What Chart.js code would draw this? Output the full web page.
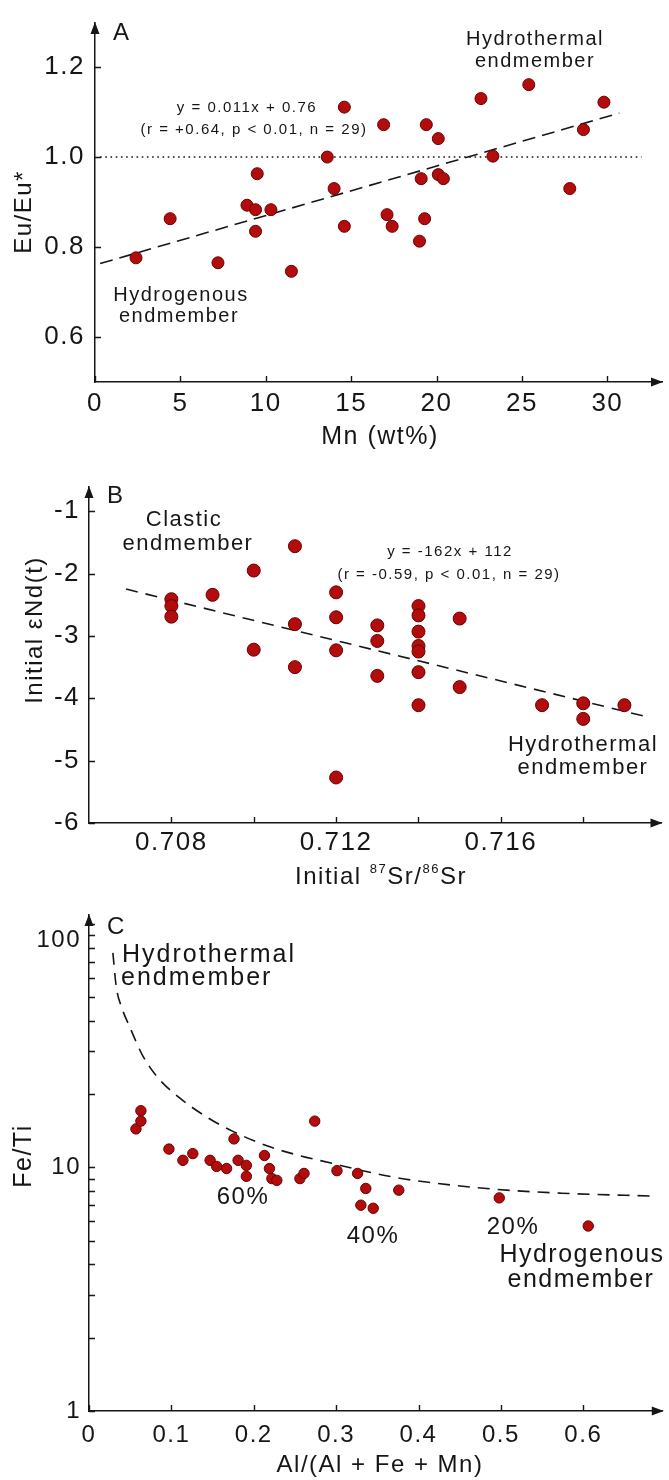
<!DOCTYPE html>
<html>
<head>
<meta charset="utf-8">
<script src="https://cdn.jsdelivr.net/npm/chart.js@4.4.1/dist/chart.umd.min.js"></script>
<style>
  html, body { margin: 0; padding: 0; background: #fff; }
  #page { position: relative; width: 669px; height: 1480px; overflow: hidden; }
  #page canvas { position: absolute; left: 0; }
</style>
</head>
<body>
<div id="page">
  <canvas id="chartA" width="669" height="465" style="top:0"></canvas>
  <canvas id="chartB" width="669" height="430" style="top:465px"></canvas>
  <canvas id="chartC" width="669" height="585" style="top:895px"></canvas>
</div>
<script>
/* ---------- A: Eu/Eu* x Mn ---------- */
const mnA = [2.4, 4.4, 7.2, 8.9, 9.4, 9.4, 9.5, 10.3, 11.5, 13.6, 14.0, 14.6, 14.6, 16.9, 17.1,
             17.4, 19.0, 19.1, 19.3, 19.4, 20.1, 20.1, 20.4, 22.6, 23.3, 25.4, 27.8, 28.6, 29.8];
const euA = [0.776, 0.863, 0.765, 0.893, 0.883, 0.835, 0.963, 0.883, 0.746, 1.000, 0.930, 1.111, 0.846, 1.072, 0.872,
             0.846, 0.813, 0.952, 0.863, 1.072, 1.041, 0.961, 0.952, 1.130, 1.002, 1.161, 0.930, 1.061, 1.122];
const ticksAX = [0, 5, 10, 15, 20, 25, 30];
const ticksAY = [0.6, 0.8, 1.0, 1.2];
const fitA = [0.011, 0.76];          // y = 0.011x + 0.76
const fitAX = [0.3, 30.7];
const refAX = [0.3, 32];             // linha Eu/Eu* = 1
const refAY = [1, 1];

/* ---------- B: εNd(t) x 87Sr/86Sr ---------- */
const srB = [0.708, 0.708, 0.708, 0.709, 0.710, 0.710, 0.711, 0.711, 0.711, 0.712, 0.712, 0.712, 0.712,
             0.713, 0.713, 0.713, 0.714, 0.714, 0.714, 0.714, 0.714, 0.714, 0.714, 0.715, 0.715,
             0.717, 0.718, 0.718, 0.719];
const ndB = [-2.41, -2.52, -2.69, -2.34, -1.95, -3.22, -1.56, -2.81, -3.50, -2.30, -2.70, -3.23, -5.27,
             -2.83, -3.08, -3.64, -2.52, -2.67, -2.93, -3.16, -3.25, -3.58, -4.11, -2.72, -3.82,
             -4.11, -4.08, -4.33, -4.11];
const ticksBX = [0.708, 0.710, 0.712, 0.714, 0.716, 0.718];
const labelsBX = ['0.708', '', '0.712', '', '0.716', ''];
const ticksBY = [-6, -5, -4, -3, -2, -1];
const fitB = [-162, 112.27];         // y = -162x + 112
const fitBX = [0.7069, 0.7195];

/* ---------- C: Fe/Ti x Al/(Al+Fe+Mn) ---------- */
const alC = [0.057, 0.063, 0.063, 0.097, 0.114, 0.126, 0.147, 0.155, 0.167, 0.176, 0.181, 0.191, 0.191, 0.213,
             0.219, 0.222, 0.228, 0.256, 0.261, 0.274, 0.301, 0.326, 0.330, 0.336, 0.345, 0.376, 0.498, 0.606];
const feTiC = [14.4, 15.5, 17.1, 11.9, 10.7, 11.4, 10.7, 10.1, 9.9, 13.1, 10.7, 10.2, 9.2, 11.2,
               9.9, 9.0, 8.85, 9.0, 9.45, 15.5, 9.7, 9.45, 7.0, 8.2, 6.8, 8.07, 7.5, 5.75];
// curva de mistura (tracejada)
const mixX = [0.029, 0.033, 0.040, 0.050, 0.064, 0.082, 0.110, 0.143, 0.174, 0.215, 0.255, 0.295,
              0.331, 0.372, 0.412, 0.493, 0.573, 0.690];
const mixY = [76, 55.5, 45.1, 37.4, 29.3, 23.7, 19.3, 16.1, 14.1, 12.3, 11.2, 10.4,
              9.72, 9.10, 8.69, 8.14, 7.84, 7.62];
const ticksCX = [0, 0.1, 0.2, 0.3, 0.4, 0.5, 0.6];
const ticksCY = [1, 2, 3, 4, 5, 6, 7, 8, 9, 10, 20, 30, 40, 50, 60, 70, 80, 90, 100];
// o rótulo "100" vai como texto solto, logo abaixo da seta
const labelsCY = ticksCY.map(v => (v === 1 || v === 10) ? String(v) : '');

/* ---------- estilo ---------- */
const FONT = "'Liberation Sans', Arial, Helvetica, sans-serif";
const INK = '#161616';
const RED = '#b20c0c';
const RED_EDGE = '#6a0000';

Chart.defaults.font.family = FONT;
Chart.defaults.color = INK;

const zip = (xs, ys) => xs.map((x, i) => ({ x, y: ys[i] }));
const lineFrom = (fit, xs) => xs.map(x => ({ x, y: fit[0] * x + fit[1] }));

function drawText(ctx, t) {
  ctx.save();
  ctx.fillStyle = INK;
  ctx.textBaseline = 'middle';
  ctx.letterSpacing = (t.ls != null ? t.ls : 1.5) + 'px';
  ctx.translate(t.x, t.y);
  if (t.rotate) ctx.rotate(t.rotate);
  if (t.parts) {
    // texto com sobrescritos (ex.: 87Sr/86Sr)
    let total = 0;
    t.parts.forEach(p => { ctx.font = `${p.size}px ${FONT}`; p.w = ctx.measureText(p.text).width; total += p.w; });
    let cx = -total / 2;
    ctx.textAlign = 'left';
    t.parts.forEach(p => { ctx.font = `${p.size}px ${FONT}`; ctx.fillText(p.text, cx, p.dy || 0); cx += p.w; });
  } else {
    ctx.font = `${t.size}px ${FONT}`;
    ctx.textAlign = t.align || 'center';
    ctx.fillText(t.text, 0, 0);
  }
  ctx.restore();
}

/* ticks para dentro, setas nos eixos e textos soltos */
const axisDecor = {
  id: 'axisDecor',
  beforeDraw(chart) { chart.ctx.letterSpacing = '1.5px'; },
  afterDraw(chart, args, opts) {
    const { ctx, chartArea: a, scales } = chart;
    ctx.save();
    ctx.strokeStyle = INK;
    ctx.fillStyle = INK;
    ctx.lineWidth = 1.4;
    ctx.beginPath();
    scales.x.ticks.forEach(t => {
      const px = Math.round(scales.x.getPixelForValue(t.value)) + 0.5;
      ctx.moveTo(px, a.bottom); ctx.lineTo(px, a.bottom - opts.tick);
    });
    scales.y.ticks.forEach(t => {
      const py = Math.round(scales.y.getPixelForValue(t.value)) + 0.5;
      ctx.moveTo(a.left, py); ctx.lineTo(a.left + opts.tick, py);
    });
    ctx.stroke();
    ctx.beginPath();
    ctx.moveTo(a.right + 1, a.bottom);
    ctx.lineTo(a.right - 11, a.bottom - 4.5);
    ctx.lineTo(a.right - 11, a.bottom + 4.5);
    ctx.closePath();
    ctx.moveTo(a.left, a.top - 1);
    ctx.lineTo(a.left - 4.5, a.top + 11);
    ctx.lineTo(a.left + 4.5, a.top + 11);
    ctx.closePath();
    ctx.fill();
    ctx.restore();
    (opts.texts || []).forEach(t => drawText(ctx, t));
  }
};

function pointSet(data, r) {
  return {
    data, showLine: false,
    pointRadius: r, pointHoverRadius: r,
    pointBackgroundColor: RED, pointBorderColor: RED_EDGE, pointBorderWidth: 1
  };
}

function lineSet(data, dash, width, smooth) {
  return {
    data, showLine: true, pointRadius: 0,
    borderColor: INK, borderWidth: width, borderDash: dash,
    cubicInterpolationMode: smooth ? 'monotone' : 'default',
    tension: smooth ? 0.4 : 0, fill: false
  };
}

function makePanel(id, cfg) {
  const axis = (s) => ({
    type: s.type || 'linear',
    min: s.min, max: s.max,
    afterFit: sc => { if (s.height != null) sc.height = s.height; if (s.width != null) sc.width = s.width; },
    afterBuildTicks: sc => { sc.ticks = s.ticks.map(v => ({ value: v })); },
    grid: { display: false, drawTicks: false },
    border: { display: true, color: INK, width: 1.5 },
    ticks: {
      autoSkip: false, maxRotation: 0, minRotation: 0,
      padding: s.pad, color: INK,
      font: { size: s.font, lineHeight: 1 },
      callback: (v, i) => s.labels[i]
    }
  });
  return new Chart(document.getElementById(id), {
    type: 'scatter',
    data: { datasets: cfg.datasets },
    options: {
      responsive: false,
      animation: false,
      events: [],
      layout: { padding: { top: cfg.top, right: cfg.right, left: 0, bottom: 0 } },
      plugins: {
        legend: { display: false },
        tooltip: { enabled: false },
        axisDecor: { tick: 6, texts: cfg.texts }
      },
      scales: { x: axis(cfg.x), y: axis(cfg.y) }
    },
    plugins: [axisDecor]
  });
}

/* ---------- painel A ---------- */
makePanel('chartA', {
  top: 15, right: 6,
  x: { min: 0, max: 33.2, ticks: ticksAX, labels: ticksAX.map(String), font: 26, pad: 9, height: 465 - 382 },
  y: { min: 0.5, max: 1.298, ticks: ticksAY, labels: ticksAY.map(v => v.toFixed(1)), font: 26, pad: 10, width: 95 },
  datasets: [
    pointSet(zip(mnA, euA), 6),
    lineSet(lineFrom(fitA, fitAX), [13, 7], 1.6),
    lineSet(zip(refAX, refAY), [1.6, 3.6], 1.6)
  ],
  texts: [
    { text: 'A', x: 113, y: 33, size: 24, align: 'left', ls: 0 },
    { text: 'y = 0.011x + 0.76', x: 247, y: 108, size: 15 },
    { text: '(r = +0.64, p < 0.01, n = 29)', x: 254, y: 130, size: 15 },
    { text: 'Hydrothermal', x: 535, y: 39, size: 20 },
    { text: 'endmember', x: 535, y: 61, size: 20 },
    { text: 'Hydrogenous', x: 181, y: 295, size: 20 },
    { text: 'endmember', x: 179, y: 316, size: 20 },
    { text: 'Eu/Eu*', x: 24, y: 212, size: 24, rotate: -Math.PI / 2 },
    { text: 'Mn (wt%)', x: 380, y: 437, size: 25 }
  ]
});

/* ---------- painel B ---------- */
makePanel('chartB', {
  top: 13, right: 6,
  x: { min: 0.706, max: 0.7199, ticks: ticksBX, labels: labelsBX, font: 26, pad: 7, height: 430 - 358 },
  y: { min: -6, max: -0.61, ticks: ticksBY, labels: ticksBY.map(String), font: 26, pad: 9, width: 89 },
  datasets: [
    pointSet(zip(srB, ndB), 6.5),
    lineSet(lineFrom(fitB, fitBX), [12, 8], 1.6)
  ],
  texts: [
    { text: 'B', x: 107, y: 31, size: 24, align: 'left', ls: 0 },
    { text: 'Clastic', x: 184, y: 55, size: 22 },
    { text: 'endmember', x: 188, y: 79, size: 22 },
    { text: 'y = -162x + 112', x: 450, y: 87, size: 15 },
    { text: '(r = -0.59, p < 0.01, n = 29)', x: 449, y: 110, size: 15 },
    { text: 'Hydrothermal', x: 583, y: 280, size: 22 },
    { text: 'endmember', x: 583, y: 303, size: 22 },
    { text: 'Initial εNd(t)', x: 35, y: 165, size: 24, rotate: -Math.PI / 2 },
    { x: 381, y: 412, parts: [
      { text: 'Initial ', size: 24 },
      { text: '87', size: 13, dy: -8 },
      { text: 'Sr/', size: 24 },
      { text: '86', size: 13, dy: -8 },
      { text: 'Sr', size: 24 }
    ] }
  ]
});

/* ---------- painel C ---------- */
makePanel('chartC', {
  top: 15, right: 4,
  x: { min: 0, max: 0.6965, ticks: ticksCX, labels: ticksCX.map(String), font: 24, pad: 12, height: 585 - 516 },
  y: { type: 'logarithmic', min: 1, max: 108.8, ticks: ticksCY, labels: labelsCY, font: 24, pad: 8, width: 89 },
  datasets: [
    pointSet(zip(alC, feTiC), 5.2),
    lineSet(zip(mixX, mixY), [12, 8], 1.6, true)
  ],
  texts: [
    { text: '100', x: 81, y: 45, size: 24, align: 'right' },
    { text: 'C', x: 107, y: 32, size: 24, align: 'left', ls: 0 },
    { text: 'Hydrothermal', x: 122, y: 60, size: 25, align: 'left', ls: 2 },
    { text: 'endmember', x: 121, y: 83, size: 25, align: 'left', ls: 2 },
    { text: '60%', x: 243, y: 302, size: 24 },
    { text: '40%', x: 373, y: 341, size: 24 },
    { text: '20%', x: 513, y: 332, size: 24 },
    { text: 'Hydrogenous', x: 582, y: 360, size: 25 },
    { text: 'endmember', x: 581, y: 385, size: 25 },
    { text: 'Fe/Ti', x: 24, y: 261, size: 25, rotate: -Math.PI / 2 },
    { text: 'Al/(Al + Fe + Mn)', x: 380, y: 570, size: 24 }
  ]
});
</script>
</body>
</html>
